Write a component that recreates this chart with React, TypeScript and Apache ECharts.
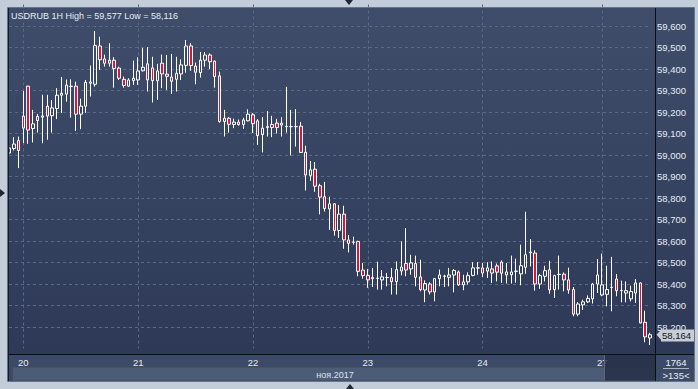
import React, { useEffect, useRef } from "react";
import * as echarts from "echarts";

const titleText = "USDRUB 1H High = 59,577 Low = 58,116";
const dayLabels = ["20", "21", "22", "23", "24", "27"];
const dayStarts = [3, 27, 51, 75, 99, 124];
const monthLabel = "ноя.2017";
const barCountText = "1764";
const shiftText = ">135<";

const opens = [
  59.009, 59.03, 59.067, 59.181, 59.32, 59.123, 59.179, 59.176, 59.227, 59.183,
  59.216, 59.278, 59.283, 59.318, 59.32, 59.19, 59.227, 59.334, 59.329, 59.507,
  59.447, 59.427, 59.441, 59.404, 59.352, 59.32, 59.346, 59.349, 59.392, 59.424,
  59.405, 59.345, 59.427, 59.376, 59.363, 59.352, 59.377, 59.417, 59.507, 59.414,
  59.383, 59.441, 59.465, 59.436, 59.368, 59.156, 59.171, 59.142, 59.153, 59.142,
  59.159, 59.187, 59.159, 59.095, 59.128, 59.142, 59.148, 59.148, 59.133, 59.132,
  59.132, 59.134, 59.013, 58.905, 58.934, 58.857, 58.806, 58.749, 58.773, 58.649,
  58.725, 58.605, 58.594, 58.598, 58.465, 58.44, 58.425, 58.426, 58.419, 58.43,
  58.43, 58.411, 58.461, 58.495, 58.47, 58.495, 58.433, 58.372, 58.4, 58.363,
  58.425, 58.436, 58.431, 58.442, 58.456, 58.396, 58.41, 58.44, 58.474, 58.475,
  58.46, 58.47, 58.484, 58.502, 58.442, 58.443, 58.459, 58.447, 58.478, 58.545,
  58.544, 58.4, 58.436, 58.466, 58.374, 58.444, 58.446, 58.419, 58.374, 58.26,
  58.303, 58.317, 58.331, 58.4, 58.349, 58.352, 58.384, 58.423, 58.369, 58.358,
  58.331, 58.358, 58.405, 58.222, 58.149,
];
const closes = [
  59.032, 59.051, 59.021, 59.125, 59.116, 59.145, 59.16, 59.182, 59.181, 59.219,
  59.278, 59.287, 59.325, 59.32, 59.19, 59.227, 59.338, 59.34, 59.509, 59.443,
  59.427, 59.441, 59.402, 59.357, 59.323, 59.349, 59.357, 59.391, 59.408, 59.349,
  59.346, 59.391, 59.377, 59.366, 59.343, 59.38, 59.419, 59.507, 59.416, 59.385,
  59.441, 59.465, 59.434, 59.365, 59.156, 59.171, 59.143, 59.153, 59.142, 59.163,
  59.19, 59.146, 59.09, 59.125, 59.132, 59.128, 59.128, 59.139, 59.132, 59.132,
  59.132, 59.012, 58.907, 58.931, 58.855, 58.804, 58.751, 58.773, 58.649, 58.725,
  58.605, 58.589, 58.595, 58.459, 58.439, 58.419, 58.431, 58.427, 58.433, 58.43,
  58.411, 58.467, 58.479, 58.465, 58.498, 58.431, 58.374, 58.402, 58.363, 58.425,
  58.442, 58.437, 58.442, 58.463, 58.396, 58.41, 58.439, 58.475, 58.475, 58.451,
  58.475, 58.451, 58.455, 58.45, 58.456, 58.456, 58.46, 58.485, 58.536, 58.549,
  58.4, 58.439, 58.462, 58.373, 58.439, 58.445, 58.419, 58.372, 58.26, 58.307,
  58.317, 58.333, 58.4, 58.442, 58.396, 58.374, 58.385, 58.369, 58.37, 58.369,
  58.365, 58.405, 58.219, 58.154, 58.164,
];
const highs = [
  59.035, 59.083, 59.086, 59.298, 59.322, 59.21, 59.191, 59.28, 59.28, 59.256,
  59.311, 59.363, 59.351, 59.352, 59.341, 59.262, 59.349, 59.416, 59.577, 59.55,
  59.467, 59.52, 59.455, 59.411, 59.365, 59.357, 59.439, 59.455, 59.498, 59.502,
  59.457, 59.424, 59.467, 59.465, 59.47, 59.457, 59.445, 59.535, 59.52, 59.43,
  59.479, 59.479, 59.473, 59.44, 59.388, 59.21, 59.176, 59.169, 59.165, 59.173,
  59.213, 59.195, 59.167, 59.176, 59.205, 59.182, 59.168, 59.176, 59.317, 59.21,
  59.213, 59.153, 59.043, 58.972, 58.967, 58.866, 58.875, 58.806, 58.776, 58.767,
  58.764, 58.628, 58.62, 58.601, 58.498, 58.47, 58.475, 58.504, 58.465, 58.451,
  58.475, 58.505, 58.598, 58.66, 58.536, 58.532, 58.513, 58.417, 58.408, 58.428,
  58.467, 58.443, 58.475, 58.47, 58.463, 58.443, 58.454, 58.501, 58.502, 58.498,
  58.501, 58.505, 58.495, 58.51, 58.498, 58.532, 58.518, 58.583, 58.736, 58.609,
  58.557, 58.447, 58.485, 58.508, 58.443, 58.532, 58.454, 58.476, 58.386, 58.316,
  58.327, 58.347, 58.405, 58.516, 58.541, 58.485, 58.526, 58.447, 58.416, 58.412,
  58.392, 58.423, 58.407, 58.276, 58.173,
];
const lows = [
  59.005, 59.021, 58.939, 59.055, 59.052, 59.058, 59.104, 59.055, 59.071, 59.104,
  59.167, 59.195, 59.248, 59.174, 59.112, 59.12, 59.196, 59.272, 59.318, 59.396,
  59.411, 59.411, 59.313, 59.349, 59.313, 59.318, 59.326, 59.326, 59.388, 59.295,
  59.244, 59.256, 59.311, 59.303, 59.284, 59.295, 59.349, 59.383, 59.392, 59.329,
  59.36, 59.411, 59.4, 59.313, 59.15, 59.086, 59.104, 59.125, 59.136, 59.122,
  59.156, 59.102, 59.047, 59.012, 59.086, 59.083, 59.1, 59.086, 59.104, 58.998,
  59.039, 59.01, 58.835, 58.88, 58.829, 58.724, 58.737, 58.652, 58.625, 58.614,
  58.564, 58.547, 58.583, 58.436, 58.425, 58.382, 58.386, 58.374, 58.374, 58.389,
  58.351, 58.351, 58.44, 58.436, 58.443, 58.389, 58.366, 58.315, 58.351, 58.319,
  58.389, 58.386, 58.389, 58.361, 58.392, 58.371, 58.397, 58.436, 58.443, 58.433,
  58.428, 58.405, 58.412, 58.405, 58.402, 58.402, 58.406, 58.394, 58.448, 58.482,
  58.369, 58.378, 58.412, 58.355, 58.335, 58.374, 58.366, 58.355, 58.25, 58.25,
  58.279, 58.312, 58.309, 58.358, 58.343, 58.296, 58.273, 58.343, 58.315, 58.315,
  58.319, 58.312, 58.217, 58.129, 58.116,
];

const FONT = "'Liberation Sans', Arial, sans-serif";
const LABEL = "#e6ecf5";
const GRIDLINE = "#5a6986";

export default function App() {
  const ref = useRef<HTMLDivElement>(null);

  useEffect(() => {
    if (!ref.current) return;
    const chart = echarts.init(ref.current, null, { renderer: "svg" });
    const categories = opens.map((_, i) => String(i));
    const candles = opens.map((o, i) => [o, closes[i], lows[i], highs[i]]);
    const lastIdx = closes.length - 1;
    const lastClose = closes[lastIdx];
    const fmt = (v: number) => v.toFixed(3).replace(".", ",");
    const isDay = (i: number) => dayStarts.indexOf(i) >= 0;

    chart.setOption({
      animation: false,
      backgroundColor: "#c3cdd9",
      title: {
        text: titleText,
        left: 11,
        top: 11,
        padding: 0,
        textStyle: { fontFamily: FONT, fontSize: 9, fontWeight: "normal", color: LABEL },
      },
      grid: { left: 9, width: 641, top: 4.5, height: 344, containLabel: false },
      xAxis: {
        type: "category",
        data: categories,
        boundaryGap: false,
        axisLine: { show: false },
        axisTick: { show: false },
        axisLabel: {
          interval: (i: number) => isDay(i),
          formatter: (v: string) => {
            const k = dayStarts.indexOf(Number(v));
            return k >= 0 ? dayLabels[k] : "";
          },
          color: LABEL,
          fontFamily: FONT,
          fontSize: 9.5,
          margin: 9,
        },
        splitLine: {
          show: true,
          interval: (i: number) => isDay(i),
          lineStyle: { color: GRIDLINE, type: [3, 3], width: 1 },
        },
      },
      yAxis: {
        type: "value",
        position: "right",
        min: 58.1,
        max: 59.7,
        interval: 0.1,
        scale: true,
        axisLine: { show: false },
        axisTick: { show: false },
        axisLabel: {
          formatter: (v: number) => fmt(v),
          color: LABEL,
          fontFamily: FONT,
          fontSize: 9.5,
          margin: 7,
          showMinLabel: false,
          showMaxLabel: false,
        },
        splitLine: {
          show: true,
          showMinLine: false,
          showMaxLine: false,
          lineStyle: { color: GRIDLINE, type: [3, 3], width: 1 },
        },
      },
      series: [
        {
          type: "candlestick",
          data: candles,
          barWidth: 3,
          clip: false,
          itemStyle: {
            color: "rgba(0,0,0,0)",
            color0: "#dc143c",
            borderColor: "#ffffff",
            borderColor0: "#ffffff",
            borderWidth: 1,
          },
          markLine: {
            silent: true,
            symbol: ["none", "none"],
            lineStyle: { color: "rgba(0,0,0,0)", width: 0, type: "solid" },
            label: {
              show: true,
              position: "end",
              distance: 11,
              formatter: () => fmt(lastClose),
              backgroundColor: "#c9ced6",
              color: "#10141c",
              fontFamily: FONT,
              fontSize: 9.5,
              padding: [1, 7, 1, 1],
              opacity: 1,
            },
            emphasis: { disabled: true },
            data: [{ yAxis: lastClose }],
          },
          markPoint: {
            silent: true,
            symbol: "triangle",
            symbolSize: [11, 5],
            symbolRotate: 90,
            symbolOffset: [9, 0],
            itemStyle: { color: "#c9ced6" },
            label: { show: false },
            data: [{ coord: [String(lastIdx), lastClose] }],
          },
        },
      ],
      graphic: [
        {
          type: "rect",
          z: -20,
          shape: { x: 8, y: 8, width: 686, height: 346 },
          style: {
            fill: new echarts.graphic.LinearGradient(0, 0, 0, 1, [
              { offset: 0, color: "#3f4d6a" },
              { offset: 1, color: "#2d3957" },
            ]),
          },
        },
        { type: "rect", z: -20, shape: { x: 8, y: 354, width: 686, height: 27 }, style: { fill: "#3c4a65" } },
        { type: "rect", z: -19, shape: { x: 13, y: 367.5, width: 642, height: 13 }, style: { fill: "#4c5b76" } },
        { type: "rect", z: 20, shape: { x: 604, y: 355, width: 51, height: 25.5 }, style: { fill: "rgba(36,46,70,0.82)" } },
        { type: "line", z: 21, shape: { x1: 604.5, y1: 355, x2: 604.5, y2: 380.5 }, style: { stroke: "#59677f", lineWidth: 1 } },
        { type: "line", z: 22, shape: { x1: 655.5, y1: 8, x2: 655.5, y2: 381 }, style: { stroke: "#0b0e14", lineWidth: 1 } },
        { type: "line", z: 22, shape: { x1: 8, y1: 354.5, x2: 694, y2: 354.5 }, style: { stroke: "#0b0e14", lineWidth: 1 } },
        { type: "line", z: 22, shape: { x1: 8.5, y1: 8, x2: 8.5, y2: 381 }, style: { stroke: "#151a24", lineWidth: 1 } },
        { type: "rect", z: 22, shape: { x: 7.5, y: 7.5, width: 687, height: 374 }, style: { fill: "none", stroke: "#66738a", lineWidth: 1 } },
        {
          type: "text", z: 22, x: 676, y: 362,
          style: { text: barCountText, fill: LABEL, font: `9.5px ${FONT}`, align: "center", verticalAlign: "middle" },
        },
        { type: "line", z: 22, shape: { x1: 663, y1: 368.5, x2: 689, y2: 368.5 }, style: { stroke: "#aab4c4", lineWidth: 1 } },
        {
          type: "text", z: 22, x: 676, y: 375,
          style: { text: shiftText, fill: LABEL, font: `9.5px ${FONT}`, align: "center", verticalAlign: "middle" },
        },
        {
          type: "text", z: 22, x: 335, y: 374.5,
          style: { text: monthLabel, fill: "#dde4ef", font: `9px ${FONT}`, align: "center", verticalAlign: "middle" },
        },
        { type: "polygon", z: 22, shape: { points: [[345, 0], [353, 0], [349, 5]] }, style: { fill: "#1e2533" } },
        { type: "polygon", z: 22, shape: { points: [[346, 389], [354, 389], [350, 384]] }, style: { fill: "#1e2533" } },
        { type: "polygon", z: 22, shape: { points: [[0, 189], [0, 197], [5, 193]] }, style: { fill: "#1e2533" } },
      ],
    });
    return () => chart.dispose();
  }, []);

  return (
    <div
      ref={ref}
      style={{ position: "absolute", left: 0, top: 0, width: 698, height: 389 }}
    />
  );
}
